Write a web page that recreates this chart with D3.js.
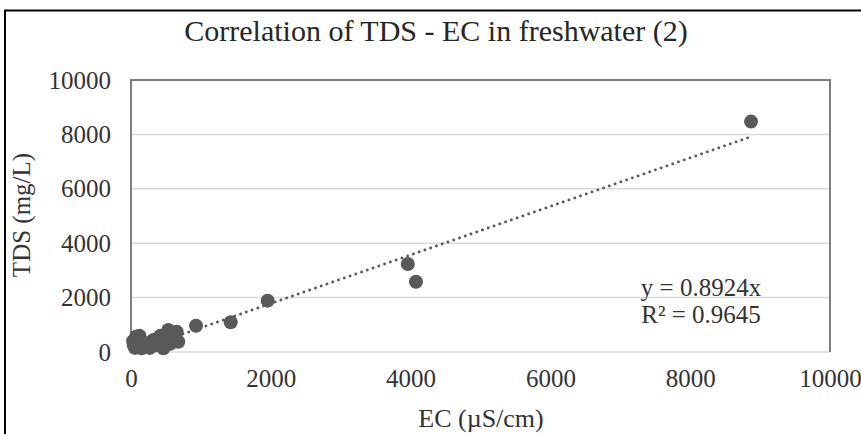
<!DOCTYPE html>
<html>
<head>
<meta charset="utf-8">
<script src="https://cdn.jsdelivr.net/npm/d3@7"></script>
<style>
html,body{margin:0;padding:0;background:#fff;}
svg{display:block;}
text{font-family:"Liberation Serif","Times New Roman",serif;}
</style>
</head>
<body>
<svg id="chart" width="861" height="434"></svg>
<script>
const chartTitle = "Correlation of TDS - EC in freshwater (2)";
const xTitle = "EC (\u00b5S/cm)";
const yTitle = "TDS (mg/L)";
const ecValues  = [30, 40, 60, 72, 105, 120, 153, 180, 200, 248, 270, 290, 320, 350, 360, 391, 420, 430, 463, 480, 500, 534, 560, 570, 605, 620, 654, 677, 930, 1426, 1955, 3960, 4077, 8870];
const tdsValues = [400, 250, 150, 560, 257, 600, 136, 350, 200, 320, 150, 260, 441, 250, 350, 503, 600, 330, 136, 420, 560, 809, 300, 500, 625, 450, 746, 379, 967, 1092, 1887, 3235, 2585, 8470];
const xTicks = [0, 2000, 4000, 6000, 8000, 10000];
const yTicks = [0, 2000, 4000, 6000, 8000, 10000];
const slope = 0.8924;
const eqLines = ["y = 0.8924x", "R\u00b2 = 0.9645"];

const svg = d3.select("#chart");
const L = 131, R = 830, T = 80, B = 352;
const x = d3.scaleLinear().domain([0, 10000]).range([L, R]);
const y = d3.scaleLinear().domain([0, 10000]).range([B, T]);

// outer frame
svg.append("path").attr("d", `M5,434 V10.5 H861`).attr("fill","none").attr("stroke","#000").attr("stroke-width",2);

// title
svg.append("text").attr("x", 436).attr("y", 41).attr("text-anchor","middle")
  .attr("font-size", 30).attr("fill","#262626").text(chartTitle);

// gridlines
svg.append("g").selectAll("line").data(yTicks.filter(d => d > 0 && d < 10000)).join("line")
  .attr("x1", L).attr("x2", R).attr("y1", d => y(d)).attr("y2", d => y(d))
  .attr("stroke","#d9d9d9").attr("stroke-width",1.5);
svg.append("line").attr("x1", L).attr("x2", R).attr("y1", y(0)).attr("y2", y(0))
  .attr("stroke","#d9d9d9").attr("stroke-width",1.5);

// plot border (left, top, right)
svg.append("path").attr("d", `M${L},${B} V${T} H${R} V${B}`).attr("fill","none")
  .attr("stroke","#7f7f7f").attr("stroke-width",2);

// axes labels via d3 axes
const yAxis = svg.append("g").attr("transform", `translate(${L - 20},0)`)
  .call(d3.axisLeft(y).tickValues(yTicks).tickSize(0).tickPadding(0).tickFormat(d3.format("d")));
yAxis.select(".domain").remove();
yAxis.selectAll("text").attr("font-size", 25).attr("fill","#333")
  .attr("font-family","Liberation Serif, Times New Roman, serif");

const xAxis = svg.append("g").attr("transform", `translate(0,${B + 17})`)
  .call(d3.axisBottom(x).tickValues(xTicks).tickSize(0).tickPadding(0).tickFormat(d3.format("d")));
xAxis.select(".domain").remove();
xAxis.selectAll("text").attr("font-size", 25).attr("fill","#333")
  .attr("font-family","Liberation Serif, Times New Roman, serif");

// axis titles
svg.append("text").attr("x", 481).attr("y", 427).attr("text-anchor","middle")
  .attr("font-size", 26).attr("fill","#333").text(xTitle);
svg.append("text").attr("transform", "translate(30,215) rotate(-90)").attr("text-anchor","middle")
  .attr("font-size", 25).attr("fill","#333").text(yTitle);

// points
svg.append("g").selectAll("circle").data(ecValues.map((d,i)=>[d, tdsValues[i]])).join("circle")
  .attr("cx", d => x(d[0])).attr("cy", d => y(d[1])).attr("r", 7).attr("fill","#595959");

// trendline
const xmax = d3.max(ecValues);
svg.append("line").attr("x1", x(0)).attr("y1", y(0)).attr("x2", x(xmax)).attr("y2", y(slope * xmax))
  .attr("stroke","#595959").attr("stroke-width",2.8).attr("stroke-dasharray","0.1 6").attr("stroke-linecap","round");

// equation
svg.append("g").selectAll("text").data(eqLines).join("text")
  .attr("x", 701).attr("y", (d,i) => 296 + i * 27).attr("text-anchor","middle")
  .attr("font-size", 25).attr("fill","#333").text(d => d);
</script>
</body>
</html>
